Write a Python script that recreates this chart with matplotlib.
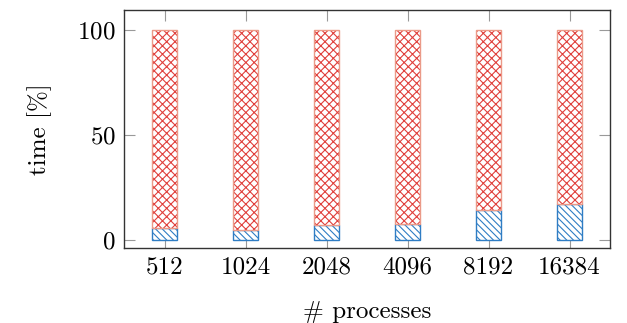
import numpy as np
import matplotlib
matplotlib.use("Agg")
import matplotlib.pyplot as plt

plt.rcParams["font.family"] = "cmr10"
plt.rcParams["axes.formatter.use_mathtext"] = True
plt.rcParams["hatch.linewidth"] = 0.8

procs = ["512", "1024", "2048", "4096", "8192", "16384"]
comm = [5.5, 5.0, 7.0, 7.7, 14.5, 17.3]
comp = [100 - c for c in comm]

blue = "#2f7dc4"
red_h = "#e0403c"
red_e = "#eb9a88"

fig = plt.figure(figsize=(6.27, 3.23), dpi=100)
ax = fig.add_axes([124 / 627, 1 - 248 / 323, 486 / 627, 238 / 323])

x = np.arange(len(procs))
w = 0.32
ax.bar(x, comm, w, color="white", edgecolor=blue, hatch="\\" * 5, linewidth=1.0, zorder=2)
ax.bar(x, comp, w, bottom=comm, color="white", edgecolor=red_h, hatch="xxxx", linewidth=0, zorder=2)
ax.bar(x, comp, w, bottom=comm, fill=False, edgecolor=red_e, linewidth=1.0, zorder=3)

ax.set_xlim(-0.5, 5.5)
ax.set_ylim(-3.8, 109.5)
ax.set_xticks(x)
ax.set_xticklabels(procs)
ax.set_yticks([0, 50, 100])
ax.tick_params(direction="in", length=8, width=0.8, color="#999999",
               top=True, right=True, labelsize=18, pad=6)
for s in ax.spines.values():
    s.set_color("#333333")
    s.set_linewidth(1.0)

ax.set_xlabel("# processes", fontsize=18, labelpad=16)
ax.set_ylabel("time [%]", fontsize=18, labelpad=18)

fig.savefig("out.png", dpi=100)
